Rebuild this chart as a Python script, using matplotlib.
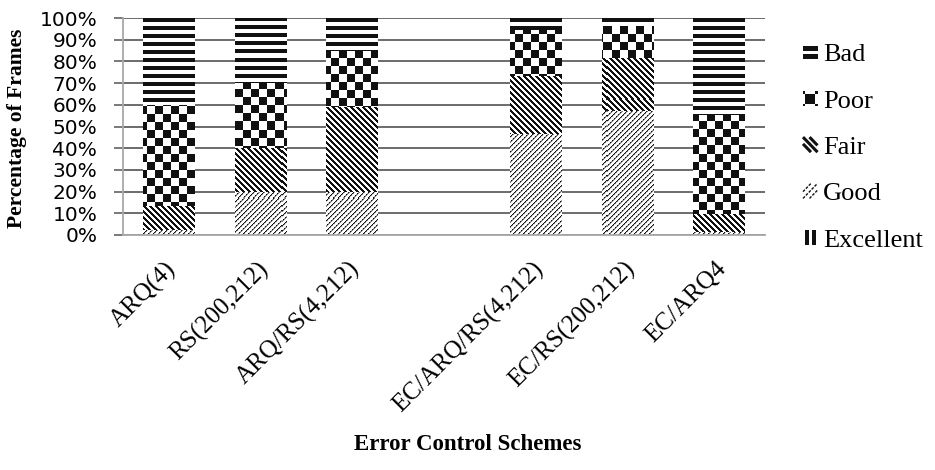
import numpy as np
import matplotlib
matplotlib.use("Agg")
import matplotlib.pyplot as plt
import matplotlib.transforms as mtransforms
from matplotlib.patches import Rectangle, Patch
from matplotlib.lines import Line2D
from matplotlib.legend_handler import HandlerBase

# Frame quality distribution per error control scheme (percent of frames)
schemes = ["ARQ(4)", "RS(200,212)", "ARQ/RS(4,212)",
           "EC/ARQ/RS(4,212)", "EC/RS(200,212)", "EC/ARQ4"]
excellent = [0, 0, 0, 0, 0, 0]
good = [2.5, 20, 20, 46.5, 57, 1.5]
fair = [11, 20, 39, 27, 24.5, 8]
poor = [46.5, 30, 26, 21, 15, 46]
bad = [40, 30, 15, 5.5, 3.5, 44.5]
yticks = [0, 10, 20, 30, 40, 50, 60, 70, 80, 90, 100]

SERIF = ["Liberation Serif", "DejaVu Serif"]
SANS = ["DejaVu Sans"]
INK = "#111111"

fig = plt.figure(figsize=(9.35, 4.7), dpi=100)
W_PX, H_PX = 935, 470
ax = fig.add_axes([123 / W_PX, 1 - 235 / H_PX, 642 / W_PX, 217 / H_PX])

# slots with a blank gap between the plain and EC schemes
slots = [0, 1, 2, 4, 5, 6]
width = 0.565
ax.set_xlim(-0.5, 6.5)
ax.set_ylim(0, 100)

# fill textures built in screen pixels (row 0 = top of the axes)
fig.canvas.draw()
bb = ax.get_window_extent()
H = int(round(bb.height))
W = int(round(bb.width))
Y, X = np.mgrid[0:H, 0:W]


def tex_bad():
    return ((Y % 8) < 4).astype(float)


def tex_poor():
    return (((Y // 8) + (X // 8)) % 2).astype(float)


def tex_fair():
    return (((X - Y) % 6) < 3).astype(float)


def tex_good():
    r = (X + Y) % 5
    t = np.where(r == 0, 1.0, np.where(r == 1, 0.55, 0.0))
    # dashed look along the strokes
    t[((X - Y) % 4) == 0] *= 0.45
    return t


def tex_excellent():
    return ((X % 6) < 3).astype(float)


series = [("Excellent", excellent, tex_excellent),
          ("Good", good, tex_good),
          ("Fair", fair, tex_fair),
          ("Poor", poor, tex_poor),
          ("Bad", bad, tex_bad)]

bottom = np.zeros(len(slots))
for name, vals, tex in series:
    vals = np.asarray(vals, dtype=float)
    bars = ax.bar(slots, vals, width, bottom=bottom, color="white",
                  linewidth=0, zorder=3, label=name)
    img = tex()
    for b in bars:
        if b.get_height() <= 0:
            continue
        im = ax.imshow(img, cmap="gray_r", vmin=0, vmax=1.08,
                       extent=(-0.5, 6.5, 0, 100), aspect="auto",
                       interpolation="nearest", origin="upper", zorder=4)
        im.set_clip_path(b)
    bottom = bottom + vals

ax.set_xlim(-0.5, 6.5)
ax.set_ylim(0, 100)

# grid, spines and ticks
ax.set_yticks(yticks)
ax.set_yticklabels([f"{v}%" for v in yticks], fontfamily=SANS, fontsize=14.5)
ax.yaxis.grid(True, color="#444444", linewidth=1.1, zorder=0)
ax.set_axisbelow(True)
ax.tick_params(axis="y", length=6.5, width=1.1, color="#555555", pad=12)
for s in ["top", "right"]:
    ax.spines[s].set_visible(False)
for s in ["left", "bottom"]:
    ax.spines[s].set_color("#a8a8a8")
    ax.spines[s].set_linewidth(1.3)
    ax.spines[s].set_zorder(5)

ax.set_xticks(slots)
ax.set_xticklabels(schemes, rotation=45, ha="right", rotation_mode="anchor",
                   fontfamily=SERIF, fontsize=18)
ax.tick_params(axis="x", length=0, pad=16)
shift = mtransforms.ScaledTranslation(-4 / 100, 0, fig.dpi_scale_trans)
for lab in ax.get_xticklabels():
    lab.set_transform(lab.get_transform() + shift)

fig.text(17 / W_PX, 1 - 128 / H_PX, "Percentage of Frames", rotation=90,
         ha="center", va="center", fontfamily=SERIF, fontweight="bold",
         fontsize=15.5)
fig.text(468 / W_PX, 1 - 445 / H_PX, "Error Control Schemes", ha="center",
         va="center", fontfamily=SERIF, fontweight="bold", fontsize=16.5)


def diag_segment(x0, y0, w, h, off, rising):
    """Diagonal stroke shifted by `off`, clipped to the swatch box."""
    t0 = max(0.0, -off / w)
    t1 = min(1.0, 1.0 - off / w)
    xs = [x0 + off + t0 * w, x0 + off + t1 * w]
    if rising:
        ys = [y0 + t0 * h, y0 + t1 * h]
    else:
        ys = [y0 + h - t0 * h, y0 + h - t1 * h]
    return xs, ys


class IconHandler(HandlerBase):
    """Small pattern swatches for the legend."""

    def __init__(self, kind):
        super().__init__()
        self.kind = kind

    def create_artists(self, legend, orig_handle, xdescent, ydescent,
                       width, height, fontsize, trans):
        x0, y0, w, h = -xdescent, -ydescent, width, height
        k = self.kind
        arts = []
        if k == "Bad":
            t = 0.3 * h
            arts.append(Rectangle((x0, y0 + 0.05 * h), w, t, color=INK, lw=0))
            arts.append(Rectangle((x0, y0 + 0.6 * h), w, t, color=INK, lw=0))
        elif k == "Poor":
            s = min(w, h)
            cx = x0 + w / 2
            c = s * 0.15
            arts.append(Rectangle((cx - s / 2 + c, y0 + c), s - 2 * c, s - 2 * c,
                                  color=INK, lw=0))
            for dx in (0, 1):
                for dy in (0, 1):
                    arts.append(Rectangle((cx - s / 2 + dx * (s - c), y0 + dy * (s - c)),
                                          c, c, color=INK, lw=0))
        elif k == "Fair":
            for off in (-0.45 * w, 0.0, 0.45 * w):
                xs, ys = diag_segment(x0, y0, w, h, off, rising=False)
                arts.append(Line2D(xs, ys, color=INK, lw=2.2,
                                   solid_capstyle="butt"))
        elif k == "Good":
            for off in (-0.45 * w, 0.0, 0.45 * w):
                xs, ys = diag_segment(x0, y0, w, h, off, rising=True)
                arts.append(Line2D(xs, ys, color=INK, lw=1.0,
                                   ls=(0, (2, 1))))
        elif k == "Excellent":
            t = 0.28 * w
            arts.append(Rectangle((x0 + 0.15 * w, y0), t, h, color=INK, lw=0))
            arts.append(Rectangle((x0 + 0.65 * w, y0), t, h, color=INK, lw=0))
        for a in arts:
            a.set_transform(trans)
        return arts


handles = []
hmap = {}
for name, _, _ in reversed(series):
    h = Patch(facecolor="white", label=name)
    hmap[h] = IconHandler(name)
    handles.append(h)

fig.legend(handles=handles, loc="center left",
           bbox_to_anchor=(803 / W_PX, 1 - 148 / H_PX),
           frameon=False, prop={"family": SERIF, "size": 19},
           handlelength=0.55, handleheight=0.5, handletextpad=0.2,
           labelspacing=0.92, borderpad=0, borderaxespad=0, handler_map=hmap)

fig.savefig("out.png", dpi=100)
